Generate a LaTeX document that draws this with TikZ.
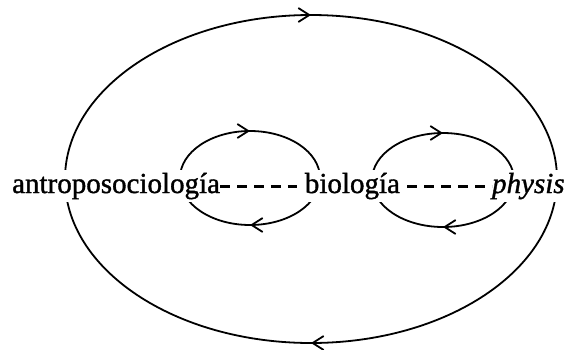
\documentclass[tikz,border=0pt]{standalone}
\usepackage{fontspec}
\setmainfont{Liberation Serif}[FakeBold=1.2]
\usetikzlibrary{arrows.meta,decorations.markings}
\tikzset{
  loopline/.style={line width=1.8pt,
    decoration={markings,
      mark=at position 0.25 with {\arrow{Straight Barb[length=11pt,width=14pt,line width=1.8pt]}},
      mark=at position 0.75 with {\arrow{Straight Barb[length=11pt,width=14pt,line width=1.8pt]}}},
    postaction={decorate}},
  word/.style={font=\fontsize{29}{34}\selectfont, fill=white, inner xsep=0pt, inner ysep=3pt, anchor=base west},
  hyph/.style={line width=2.3pt, dash pattern=on 9.66pt off 7.25pt}
}
\begin{document}
\begin{tikzpicture}[x=1pt,y=-1pt]
\useasboundingbox (0,0) rectangle (566,349);
\fill[white] (0,0) rectangle (566,349);
\draw[loopline] (311,179) ellipse [x radius=246, y radius=164];
\draw[loopline] (250,178) ellipse [x radius=70, y radius=47];
\draw[loopline] (443,180) ellipse [x radius=71, y radius=47];
\node[word] (a) at (12,193) {antroposociología};
\node[word] (b) at ([xshift=84.5pt]a.base east) {biología};
\node[word] (c) at ([xshift=91.8pt]b.base east) {\itshape physis};
\draw[hyph] ([yshift=6.5pt]a.base east) -- ([yshift=6.5pt]b.base west);
\draw[hyph, dash phase=9.66pt] ([yshift=6.5pt]b.base east) -- ([yshift=6.5pt]c.base west);
\end{tikzpicture}
\end{document}
